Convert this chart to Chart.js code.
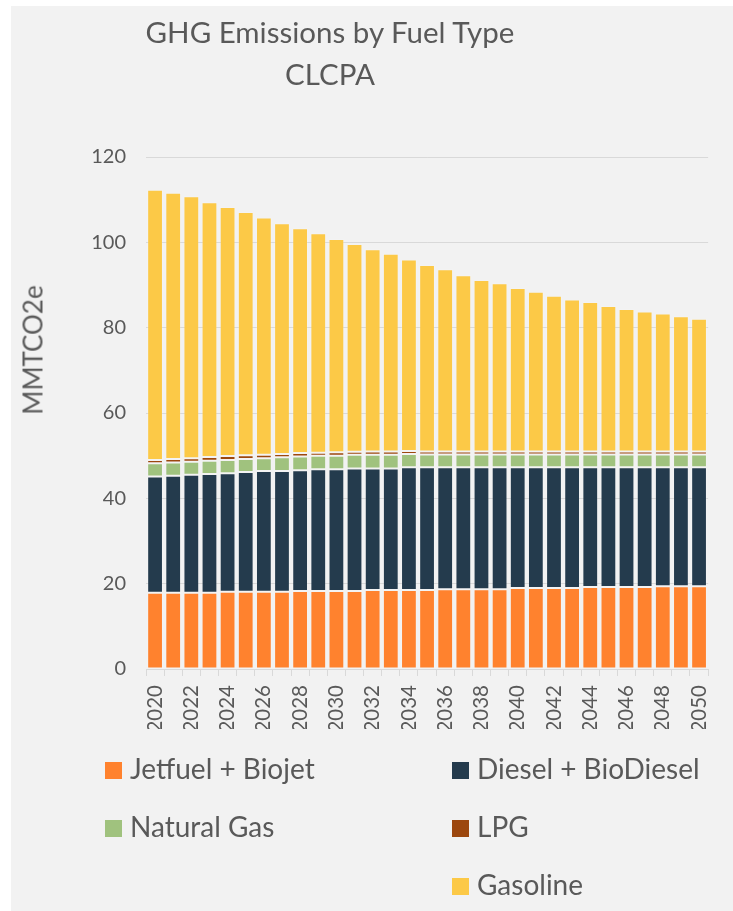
<!DOCTYPE html>
<html>
<head>
<meta charset="utf-8">
<script src="https://cdn.jsdelivr.net/npm/chart.js@4.4.1/dist/chart.umd.min.js"></script>
<style>
  html, body { margin:0; padding:0; width:733px; height:911px; overflow:hidden; background:#ffffff; font-family: Lato, "Open Sans", sans-serif; color:#595959; }
  #frame { position:absolute; left:11px; top:6px; width:722px; height:905px; background:#f2f2f2; }
  #c { position:absolute; left:0; top:0; }
  .ttl { position:absolute; left:0; width:660px; text-align:center; font-size:29.5px; line-height:35.4px; white-space:nowrap; }
  #ytitle { position:absolute; left:33px; top:350px; transform:translate(-50%,-50%) rotate(-90deg); font-size:26px; line-height:31px; white-space:nowrap; }
  .lg { position:absolute; font-size:28px; line-height:33.6px; white-space:nowrap; }
  .lg .sw { position:absolute; left:-25px; width:17px; height:17px; }
</style>
</head>
<body>
<div id="frame"></div>
<canvas id="c" width="733" height="911"></canvas>
<div class="ttl" style="top:14px">GHG Emissions by Fuel Type</div>
<div class="ttl" style="top:56px">CLCPA</div>
<div id="ytitle">MMTCO2e</div>
<div id="legend"></div>
<script>
const years = ['2020','2021','2022','2023','2024','2025','2026','2027','2028','2029','2030',
  '2031','2032','2033','2034','2035','2036','2037','2038','2039','2040',
  '2041','2042','2043','2044','2045','2046','2047','2048','2049','2050'];
const jetfuel = [17.9,17.9,17.9,17.9,18.1,18.1,18.1,18.1,18.3,18.3,18.3,18.3,18.5,18.5,18.5,18.5,
  18.7,18.7,18.7,18.7,19.0,19.0,19.0,19.0,19.2,19.2,19.2,19.2,19.4,19.4,19.4];
const diesel = [27.2,27.4,27.6,27.8,27.8,28.1,28.3,28.3,28.3,28.5,28.5,28.7,28.5,28.5,28.8,28.8,
  28.6,28.6,28.6,28.6,28.3,28.3,28.3,28.3,28.1,28.1,28.1,28.1,27.9,27.9,27.9];
const naturalGas = [3.1,3.1,3.1,3.1,3.1,3.0,3.0,3.2,3.2,3.2,3.2,3.2,3.2,3.2,3.1,3.0,
  3.0,3.0,3.0,3.0,3.0,3.0,3.0,3.0,3.0,3.0,3.0,3.0,3.0,3.0,3.0];
const lpg = [0.8,0.8,0.8,0.9,0.9,0.9,0.8,0.8,0.8,0.7,0.8,0.7,0.8,0.8,0.7,0.7,
  0.7,0.7,0.7,0.7,0.7,0.7,0.7,0.7,0.7,0.7,0.7,0.7,0.7,0.7,0.7];
const gasoline = [63.3,62.4,61.4,59.7,58.4,57.0,55.6,54.1,52.7,51.4,50.0,48.7,47.4,46.3,44.9,43.7,
  42.7,41.3,40.2,39.4,38.3,37.4,36.5,35.6,35.0,34.1,33.4,32.8,32.3,31.7,31.1];
const yTickValues = [0,20,40,60,80,100,120];

const seriesNames = ['Jetfuel + Biojet','Diesel + BioDiesel','Natural Gas','LPG','Gasoline'];
const seriesColors = ['#FF822E','#243B4D','#A0C27E','#9C470E','#FCC947'];
const seriesData = [jetfuel, diesel, naturalGas, lpg, gasoline];

const FONT = 'Lato, "Open Sans", sans-serif';
const TXT = '#595959';

const datasets = seriesNames.map((n,i)=>({
  label:n, data:seriesData[i], backgroundColor:seriesColors[i],
  borderColor:'rgba(255,255,255,0.14)', borderWidth:1, borderSkipped:false,
  categoryPercentage:1.0, barPercentage:0.87
}));

new Chart(document.getElementById('c'), {
  type:'bar',
  data:{ labels:years, datasets },
  options:{
    responsive:false, animation:false,
    layout:{ padding:{ left:0, right:21, top:157, bottom:182 } },
    plugins:{ legend:{display:false}, title:{display:false}, tooltip:{enabled:false} },
    scales:{
      x:{
        stacked:true,
        afterFit:s=>{ s.height = 60; },
        grid:{ offset:true, drawOnChartArea:false, drawTicks:true, tickLength:7, color:'#d9d9d9', lineWidth:1 },
        border:{ display:true, color:'#d9d9d9', width:1 },
        ticks:{ autoSkip:false, minRotation:90, maxRotation:90, padding:9, color:TXT, font:{family:FONT, size:20.5},
          callback:(v,i)=> i%2===0 ? years[i] : '' }
      },
      y:{
        stacked:true, min:0, max:120,
        afterFit:s=>{ s.width = 146; },
        afterBuildTicks:s=>{ s.ticks = yTickValues.map(v=>({value:v})); },
        grid:{ drawTicks:false, color:'#d9d9d9', lineWidth:1 },
        border:{ display:false },
        ticks:{ padding:20, color:TXT, font:{family:FONT, size:20} }
      }
    }
  }
});

// HTML legend in Excel-like grid
const lgPos = [[130,752],[477,752],[130,810],[477,810],[477,868]];
const lgBox = document.getElementById('legend');
seriesNames.forEach((n,i)=>{
  const d = document.createElement('div');
  d.className='lg';
  d.style.left = lgPos[i][0]+'px';
  d.style.top = lgPos[i][1]+'px';
  const sw = document.createElement('span');
  sw.className='sw';
  sw.style.background = seriesColors[i];
  sw.style.top = '10px';
  d.appendChild(sw);
  d.appendChild(document.createTextNode(n));
  lgBox.appendChild(d);
});
</script>
</body>
</html>
